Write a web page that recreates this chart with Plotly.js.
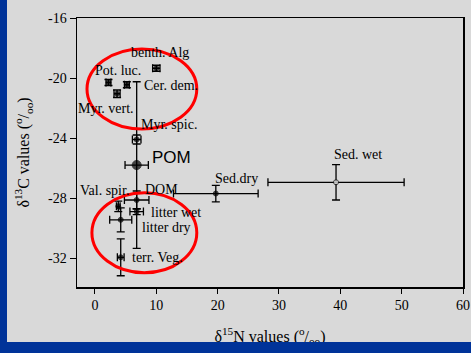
<!DOCTYPE html>
<html>
<head>
<meta charset="utf-8">
<script src="https://cdn.plot.ly/plotly-3.0.1.min.js"></script>
<style>
  html, body { margin: 0; padding: 0; background: #d9d9d9; }
  #wrap { position: relative; width: 471px; height: 353px; overflow: hidden; }
  #chart { position: absolute; left: 0; top: 0; width: 471px; height: 353px; }
  .band { position: absolute; background: #003399; }
</style>
</head>
<body>
<div id="wrap">
  <div id="chart"></div>
  <div class="band" style="left:0;top:0;width:7px;height:353px;"></div>
  <div class="band" style="left:0;top:342px;width:471px;height:11px;"></div>
</div>
<script>
// Data
const labels = ["benth. Alg", "Pot. luc.", "Cer. dem.", "Myr. vert.", "Myr. spic.", "POM", "DOM",
                "Val. spir.", "litter wet", "litter dry", "terr. Veg.", "Sed.dry", "Sed. wet"];
const d15N = [10.0, 2.2, 5.2, 3.6, 6.8, 6.8, 6.8, 3.8, 6.8, 4.2, 4.2, 19.7, 39.3];
const d13C = [-19.35, -20.3, -20.45, -21.05, -24.1, -25.8, -28.13, -28.55, -28.9, -29.45, -31.95, -27.7, -26.95];
const errN = [0.6, 0.4, 0.4, 0.5, 0.7, 1.9, 2.0, 0.3, 1.1, 1.8, 0.55, 6.9, 11.1];
const errC = [0.2, 0.2, 0.2, 0.25, 0.3, 5.55, 0.6, 0.35, 0.2, 0.8, 1.23, 0.55, 1.18];
const xTicks = [0, 10, 20, 30, 40, 50, 60];
const xTickText = ["0", "10", "20", "30", "40", "50", "60"];
const yTicks = [-32, -28, -24, -20, -16];
const yTickText = ["-32", "-28", "-24", "-20", "-16"];

// Styling (label placement in pixel offsets from each point)
const labelShift = {
  "benth. Alg": [-27, 16], "Pot. luc.": [-15, 12], "Cer. dem.": [15, -1], "Myr. vert.": [-41, -15],
  "Myr. spic.": [2, 15], "POM": [13, 8], "DOM": [6, 10], "Val. spir.": [-40, 16],
  "litter wet": [12, -1], "litter dry": [19, -8], "terr. Veg.": [9, 0], "Sed.dry": [-3, 15], "Sed. wet": [-4, 28]
};
const serif = "Liberation Serif";

const sizes = labels.map(l => l === "POM" ? 9 : 5);
const fills = labels.map(l => l === "Sed. wet" ? "#ffffff" : "#000000");

const trace = {
  x: d15N, y: d13C, type: "scatter", mode: "markers",
  marker: { size: sizes, color: fills, line: { color: "#000000", width: 1 } },
  error_x: { type: "data", array: errN, visible: true, color: "#000000", thickness: 1.3, width: 4 },
  error_y: { type: "data", array: errC, visible: true, color: "#000000", thickness: 1.3, width: 4 },
  hoverinfo: "skip", showlegend: false
};

const annotations = labels.map((l, i) => ({
  x: d15N[i], y: d13C[i], xref: "x", yref: "y", text: l, showarrow: false,
  xanchor: "left", yanchor: "middle",
  xshift: labelShift[l][0], yshift: labelShift[l][1],
  font: l === "POM" ? { family: "Liberation Sans", size: 17, color: "#000000" }
                    : { family: serif, size: 14, color: "#000000" }
}));

const layout = {
  width: 471, height: 353,
  paper_bgcolor: "#d9d9d9", plot_bgcolor: "#d9d9d9",
  margin: { l: 77, r: 8, t: 18, b: 66 },
  showlegend: false,
  font: { family: serif, size: 14, color: "#000000" },
  xaxis: {
    range: [-2.93, 60], tickvals: xTicks, ticktext: xTickText, ticks: "outside", ticklen: 5, tickcolor: "#000",
    showline: true, mirror: true, linecolor: "#000", linewidth: 1.5,
    showgrid: false, zeroline: false, tickfont: { family: serif, size: 14, color: "#000000" },
    title: { text: "δ<sup>15</sup>N values (<sup>o</sup>/<sub>oo</sub>)", font: { family: serif, size: 16, color: "#000000" }, standoff: 18 }
  },
  yaxis: {
    range: [-33.93, -16], tickvals: yTicks, ticktext: yTickText, ticks: "outside", ticklen: 6, tickcolor: "#000",
    showline: true, mirror: true, linecolor: "#000", linewidth: 1.5,
    showgrid: false, zeroline: false, tickfont: { family: serif, size: 14, color: "#000000" },
    title: { text: "δ<sup>13</sup>C values (<sup>o</sup>/<sub>oo</sub>)", font: { family: serif, size: 16, color: "#000000" }, standoff: 14 }
  },
  annotations: annotations,
  shapes: [
    { type: "circle", xref: "x", yref: "y", x0: -1.3, x1: 16.6, y0: -18.07, y1: -23.4,
      line: { color: "#ff0000", width: 3 } },
    { type: "circle", xref: "x", yref: "y", x0: -0.5, x1: 16.6, y0: -27.65, y1: -32.98,
      line: { color: "#ff0000", width: 3 } }
  ]
};

Plotly.newPlot("chart", [trace], layout, { displayModeBar: false, staticPlot: true });
</script>
</body>
</html>
